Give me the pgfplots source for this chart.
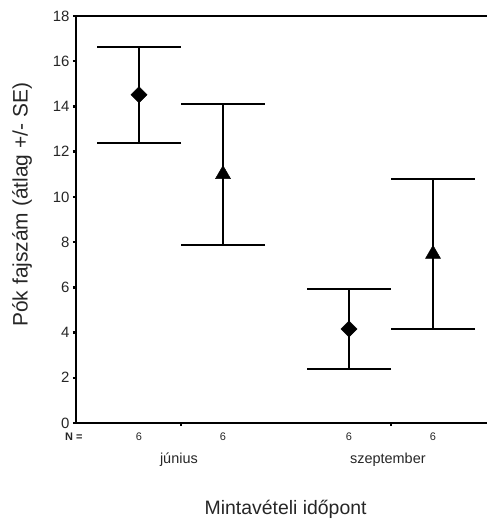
\documentclass[border=0pt]{standalone}
\usepackage{pgfplots}
\pgfplotsset{compat=1.18}
\usepackage{fontspec}
\setmainfont{Liberation Sans}
\begin{document}
\begin{tikzpicture}
\begin{axis}[name=ax, at={(0,0)}, anchor=south west,
  scale only axis, width=411bp, height=407bp,
  xmin=0.5, xmax=2.457, ymin=0, ymax=18,
  axis x line=box, axis y line=left,
  axis line style={line width=1.8bp, black, -},
  xtick={1,2}, xticklabels={,}, xtick pos=left,
  ytick={0,2,...,18}, ytick pos=left,
  tick align=outside, major tick length=3bp,
  tick style={line width=2.5bp, black},
  /pgf/number format/assume math mode=true,
  yticklabel style={font=\fontsize{15}{15}\selectfont, text=black!85},
  clip=false,
]
\addplot[only marks, mark=square*, mark size=5.7bp, mark options={rotate=45, fill=black, draw=black},
  error bars/.cd, y dir=both, y explicit,
  error bar style={line width=1.3bp, black},
  error mark options={rotate=90, line width=1.8bp, mark size=42bp, black}]
  coordinates {(0.8,14.52) +- (0,2.12) (1.8,4.16) +- (0,1.77)};
\addplot[only marks, mark=triangle*, mark size=8.7bp, mark options={fill=black, draw=black},
  error bars/.cd, y dir=both, y explicit,
  error bar style={line width=1.3bp, black},
  error mark options={rotate=90, line width=1.8bp, mark size=42bp, black}]
  coordinates {(1.2,11.0) +- (0,3.12) (2.2,7.47) +- (0,3.31)};
\begin{scope}[every node/.style={text=black!85}]
\node[font=\fontsize{11}{11}\selectfont\bfseries] at ([yshift=-14bp]axis cs:0.49,0) {N =};
\node[font=\fontsize{11}{11}\selectfont] at ([yshift=-14bp]axis cs:0.8,0) {6};
\node[font=\fontsize{11}{11}\selectfont] at ([yshift=-14bp]axis cs:1.2,0) {6};
\node[font=\fontsize{11}{11}\selectfont] at ([yshift=-14bp]axis cs:1.8,0) {6};
\node[font=\fontsize{11}{11}\selectfont] at ([yshift=-14bp]axis cs:2.2,0) {6};
\node[font=\fontsize{14.5}{14.5}\selectfont] at ([yshift=-37bp]axis cs:0.99,0) {június};
\node[font=\fontsize{14.5}{14.5}\selectfont] at ([yshift=-37bp]axis cs:1.985,0) {szeptember};
\node[font=\fontsize{19.5}{19.5}\selectfont] at ([yshift=-86bp]axis cs:1.498,0) {Mintavételi időpont};
\node[font=\fontsize{21}{21}\selectfont, rotate=90] at ([xshift=-54bp]axis cs:0.5,9.65) {Pók fajszám (átlag +/- SE)};
\end{scope}
\end{axis}
\pgfresetboundingbox
\path[use as bounding box] ([xshift=-76bp,yshift=-99bp]ax.south west) rectangle ++(487bp,522bp);
\end{tikzpicture}
\end{document}
